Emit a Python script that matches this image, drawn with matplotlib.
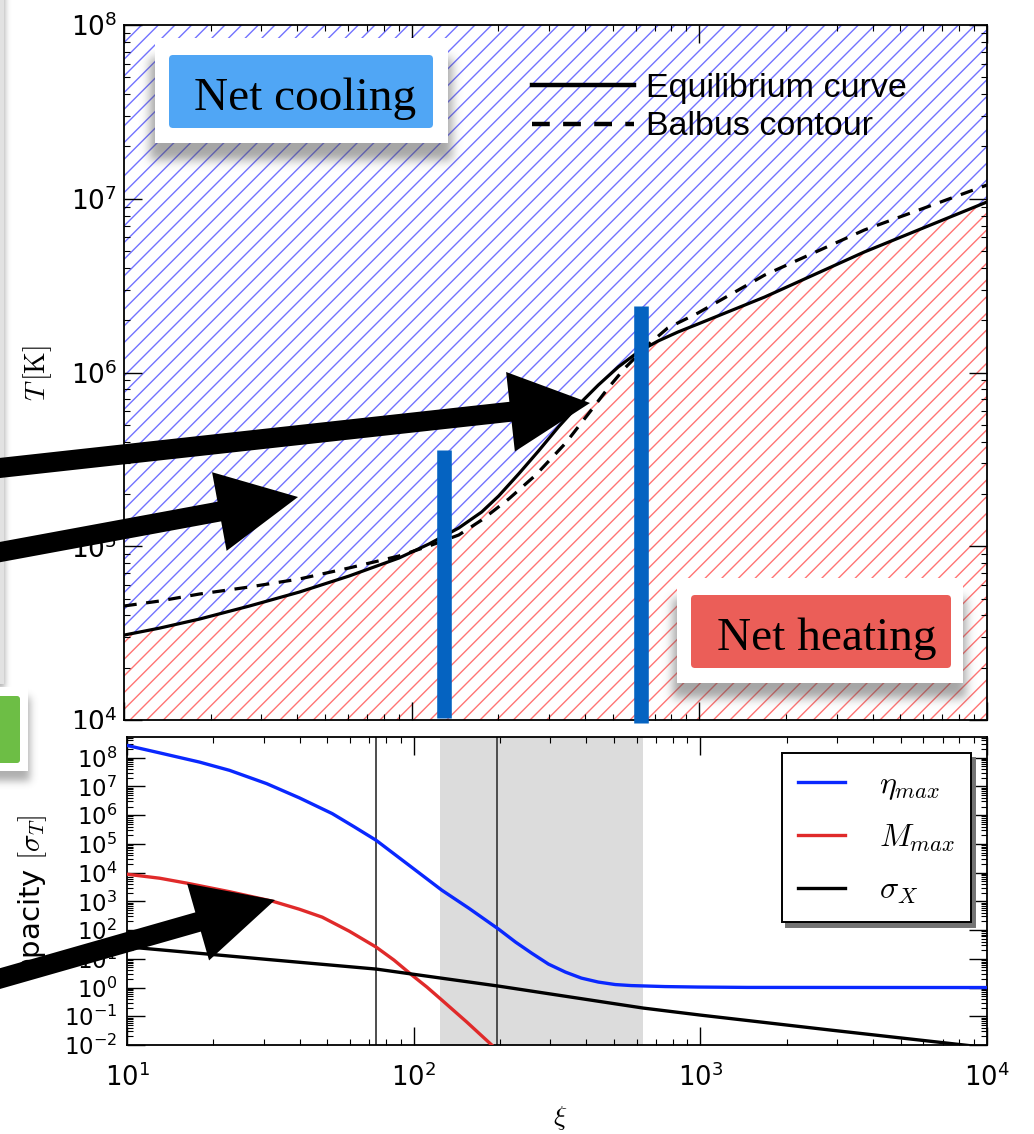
import numpy as np
import matplotlib
matplotlib.use("Agg")
import matplotlib.pyplot as plt
from matplotlib.patches import Rectangle, FancyBboxPatch, FancyArrow
from matplotlib.ticker import LogLocator, NullFormatter

plt.rcParams["font.family"] = ["DejaVu Sans"]
plt.rcParams["mathtext.fontset"] = "cm"
plt.rcParams["hatch.linewidth"] = 1.0

W, H = 1034, 1134

# ---------------- thermal equilibrium (upper panel) ----------------
xi_range = [10, 1e4]
T_range = [1e4, 1e8]

xi_eq = [10, 13.3, 18.3, 27.3, 40.7, 60.6, 90.4, 114.8, 145.8, 175.2, 200.6, 235.3,
         276.0, 323.7, 379.7, 445.5, 522.4, 613.0, 718.9, 843.2, 988.8, 1688, 3747, 10000]
T_eq = [3.08e4, 3.38e4, 3.81e4, 4.53e4, 5.45e4, 6.74e4, 8.56e4, 1.030e5, 1.274e5,
        1.575e5, 1.946e5, 2.605e5, 3.534e5, 4.858e5, 6.50e5, 8.47e5, 1.076e6, 1.312e6,
        1.518e6, 1.711e6, 1.901e6, 2.72e6, 4.94e6, 9.58e6]

xi_balbus = [10, 13.3, 18.3, 27.3, 40.7, 60.6, 90.4, 114.8, 145.8, 175.2, 217.5, 270.0,
             343.1, 421.3, 481.9, 551.1, 662.6, 776.4, 988.8, 1688, 3747, 10000]
T_balbus = [4.53e4, 4.84e4, 5.31e4, 5.83e4, 6.48e4, 7.50e4, 8.79e4, 1.003e5, 1.161e5,
            1.416e5, 1.871e5, 2.571e5, 3.93e5, 6.08e5, 8.14e5, 1.061e6, 1.440e6,
            1.804e6, 2.199e6, 3.64e6, 6.61e6, 1.20e7]

# highlighted ionisation-parameter markers
marker_xi = [130, 625]
marker_top = [3.6e5, 2.4e6]
marker_bottom = [1.03e4, 9.6e3]

# ---------------- opacities (lower panel) ----------------
xi_eta = [10, 13.0, 17.9, 22.8, 30.7, 39.9, 52.0, 62.0, 74.0, 96.3, 125.4, 155.7,
          198, 226.8, 257.8, 295.3, 338.3, 384.6, 440.7, 505.1, 574.1, 753.3, 981,
          1460, 10000]
eta_max = [2.67e8, 1.47e8, 7.03e7, 3.62e7, 1.25e7, 4.01e6, 1.13e6, 3.94e5, 1.33e5,
           1.81e4, 2.44e3, 5.78e2, 1.07e2, 38.0, 15.8, 6.54, 3.45, 2.13, 1.55, 1.27,
           1.17, 1.08, 1.04, 1.01, 1.0]

xi_M = [10, 13.0, 16.2, 22.8, 32.2, 39.9, 48.0, 59.6, 74.0, 85.4, 98.6, 111.2,
        125.4, 153.2, 187.2]
M_max = [8.79e3, 6.38e3, 4.28e3, 2.16e3, 1.01e3, 5.33e2, 2.81e2, 91.6, 25.5, 9.0,
         2.71, 1.04, 0.366, 0.063, 0.01]

xi_sig = [10, 30.7, 74, 198, 632, 1000, 2845, 8300, 10000]
sigma_X = [26.1, 9.55, 4.39, 1.12, 0.193, 0.110, 0.0331, 0.01, 0.0081]

vline_xi = [74, 195]
band_xi = [124, 632]
opacity_range = [1e-2, 10 ** 8.72]


def fig_rect(x0, y0, x1, y1):
    """Figure-fraction rectangle from pixel corners (y measured downward)."""
    return [x0 / W, 1 - y1 / H, (x1 - x0) / W, (y1 - y0) / H]


def style_log_axes(ax, ylabsize, ypad, xlabsize, xpad):
    ax.set_xscale("log")
    ax.set_yscale("log")
    ax.xaxis.set_major_locator(LogLocator(base=10, numticks=30))
    ax.yaxis.set_major_locator(LogLocator(base=10, numticks=30))
    ax.xaxis.set_minor_locator(LogLocator(base=10, subs=np.arange(2, 10), numticks=300))
    ax.yaxis.set_minor_locator(LogLocator(base=10, subs=np.arange(2, 10), numticks=300))
    ax.xaxis.set_minor_formatter(NullFormatter())
    ax.yaxis.set_minor_formatter(NullFormatter())
    ax.tick_params(which="both", direction="in", top=True, right=True)
    ax.tick_params(which="major", length=13, width=1.0)
    ax.tick_params(which="minor", length=4.5, width=0.8)
    ax.tick_params(axis="y", labelsize=ylabsize, pad=ypad)
    ax.tick_params(axis="x", labelsize=xlabsize, pad=xpad)
    for s in ax.spines.values():
        s.set_linewidth(1.3)


fig = plt.figure(figsize=(W / 100, H / 100), dpi=100, facecolor="white")

# ---------------- upper panel ----------------
ax1 = fig.add_axes(fig_rect(124, 25, 987, 720), zorder=0)
style_log_axes(ax1, 19, 5, 19, 5)
ax1.tick_params(axis="x", labelbottom=False)
ax1.set_xlim(*xi_range)
ax1.set_ylim(*T_range)

ax1.fill_between(xi_eq, T_eq, T_range[1], facecolor="none", edgecolor="#7272ff",
                 hatch="//", linewidth=0, zorder=1)
ax1.fill_between(xi_eq, T_range[0], T_eq, facecolor="none", edgecolor="#ff7474",
                 hatch="//", linewidth=0, zorder=1)
eq_line, = ax1.plot(xi_eq, T_eq, color="k", lw=2.3, zorder=3)
bal_line, = ax1.plot(xi_balbus, T_balbus, color="k", lw=2.3, ls="--", dashes=(4, 3), zorder=3)

leg1 = ax1.legend([eq_line, bal_line], ["Equilibrium curve", "Balbus contour"],
                  loc="upper left", bbox_to_anchor=(532 / W, 1 - 73 / H),
                  bbox_transform=fig.transFigure, frameon=False,
                  prop={"family": "Liberation Sans", "size": 24.5},
                  handlelength=3.0, handletextpad=0.35, borderpad=0,
                  borderaxespad=0, labelspacing=0.22)
for h in leg1.legend_handles:
    h.set_linewidth(3.2)

ax1.vlines(marker_xi, marker_bottom, marker_top, color="#0563c1", lw=10.5,
           capstyle="butt", clip_on=False, zorder=6)

fig.text(38 / W, 1 - 373 / H, r"$T\,[\mathrm{K}]$", rotation=90, ha="center",
         va="center", fontsize=20)

# white sheet behind the lower panel
cover = fig.add_axes([0, 0, 1, 1 - 729 / H], zorder=1)
cover.axis("off")
cover.add_patch(Rectangle((0, 0), 1, 1, transform=cover.transAxes,
                          facecolor="white", edgecolor="none"))

# ---------------- lower panel ----------------
ax2 = fig.add_axes(fig_rect(127, 737, 987, 1045), zorder=2)
ax2.set_facecolor("white")
style_log_axes(ax2, 16.5, 7, 18.5, 13.5)
ax2.set_xlim(*xi_range)
ax2.set_ylim(*opacity_range)

ax2.axvspan(band_xi[0], band_xi[1], color="#dcdcdc", lw=0, zorder=0)
for v in vline_xi:
    ax2.axvline(v, color="0.3", lw=1.4, zorder=1)
l_eta, = ax2.plot(xi_eta, eta_max, color="#0a28ff", lw=2.4, zorder=3)
l_M, = ax2.plot(xi_M, M_max, color="#e02a2a", lw=2.4, zorder=3)
l_sig, = ax2.plot(xi_sig, sigma_X, color="k", lw=2.4, zorder=3)

leg2 = ax2.legend([l_eta, l_M, l_sig], [r"$\eta_{max}$", r"$M_{max}$", r"$\sigma_X$"],
                  loc="upper right", bbox_to_anchor=(971 / W, 1 - 753 / H),
                  bbox_transform=fig.transFigure, borderaxespad=0,
                  fancybox=False, fontsize=23, handlelength=1.5,
                  handletextpad=1.05, borderpad=0.5, labelspacing=0.65,
                  shadow={"ox": 3, "oy": -3.5, "facecolor": "0.45",
                          "edgecolor": "0.45", "alpha": 1})
leg2.get_frame().set_edgecolor("k")
leg2.get_frame().set_linewidth(1.4)

fig.text(33 / W, 1 - 898 / H, r"Opacity $[\sigma_T]$", rotation=90, ha="center",
         va="center", fontsize=21)
fig.text(560 / W, 1 - 1118 / H, r"$\xi$", ha="center", va="center", fontsize=20)

# ---------------- call-outs drawn on top ----------------
ov = fig.add_axes([0, 0, 1, 1], zorder=5)
ov.axis("off")


def soft_shadow(x0, y0, x1, y1, sigma, alpha, color=(0.3, 0.3, 0.3), z=1):
    pad = int(3 * sigma) + 2
    w = int(round(x1 - x0)) + 2 * pad
    h = int(round(y1 - y0)) + 2 * pad
    m = np.zeros((h, w))
    m[pad:h - pad, pad:w - pad] = 1.0
    r = int(3 * sigma)
    g = np.exp(-0.5 * (np.arange(-r, r + 1) / sigma) ** 2)
    g /= g.sum()
    m = np.apply_along_axis(np.convolve, 1, m, g, mode="same")
    m = np.apply_along_axis(np.convolve, 0, m, g, mode="same")
    img = np.zeros((h, w, 4))
    img[..., :3] = color
    img[..., 3] = m * alpha
    ov.imshow(img, extent=(x0 - pad, x1 + pad, y1 + pad, y0 - pad),
              interpolation="bilinear", aspect="auto", zorder=z)


def box(x0, y0, x1, y1, color, z, rounding=0.0):
    ov.add_patch(FancyBboxPatch((x0, y0), x1 - x0, y1 - y0,
                                boxstyle=f"round,pad=0,rounding_size={rounding}",
                                facecolor=color, edgecolor="none", zorder=z))


# slide edge on the left
soft_shadow(-20, -30, 5, 688, 3, 0.45, z=1)
box(-2, -2, 4, 684, "#e2e2e2", 2)

# green tag at the left edge
soft_shadow(-20, 697, 30, 781, 4, 0.45, z=1)
box(-20, 687, 28, 771, "white", 2)
box(-20, 696, 20, 763, "#6dbe45", 3, rounding=3)

# "Net cooling" label
soft_shadow(150, 58, 452, 160, 5, 0.5, z=1)
box(155, 38, 448, 143, "white", 2)
box(169, 55, 433, 128, "#50a6f5", 3, rounding=4)
ov.text(305, 110, "Net cooling", ha="center", va="baseline",
        family="Liberation Serif", fontsize=34, zorder=4)

# "Net heating" label
soft_shadow(673, 598, 966, 698, 5, 0.5, z=1)
box(677, 578, 963, 683, "white", 2)
box(691, 595, 951, 668, "#eb5e58", 3, rounding=4)
ov.text(827, 650, "Net heating", ha="center", va="baseline",
        family="Liberation Serif", fontsize=34, zorder=4)

# arrows
arrows = [((-5, 468.5), (590, 403)),
          ((-5, 553), (298, 497)),
          ((-5, 980), (275, 900))]
for (sx, sy), (tx, ty) in arrows:
    ov.add_patch(FancyArrow(sx, sy, tx - sx, ty - sy, width=20, head_width=80,
                            head_length=80, length_includes_head=True,
                            facecolor="black", edgecolor="none", zorder=10))

ov.set_xlim(0, W)
ov.set_ylim(H, 0)

fig.savefig("out.png", dpi=100, facecolor="white")
